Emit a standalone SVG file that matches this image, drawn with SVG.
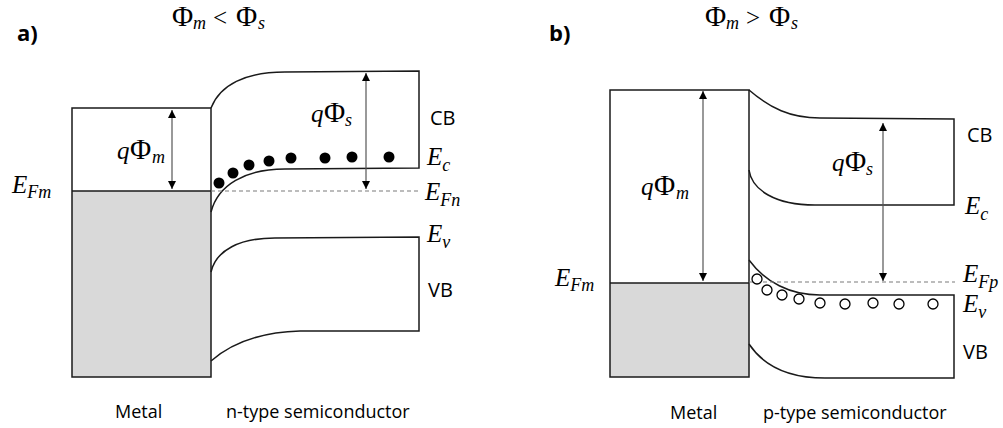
<svg xmlns="http://www.w3.org/2000/svg" width="1003" height="428" viewBox="0 0 1003 428">
<style>
.band{fill:none;stroke:#1a1a1a;stroke-width:1.5}
.box{fill:none;stroke:#1a1a1a;stroke-width:1.5}
.fill{fill:#d9d9d9;stroke:none}
.dash{stroke:#7a7a7a;stroke-width:1.2;stroke-dasharray:4 3;fill:none}
.arr{stroke:#555;stroke-width:1.2;fill:none;marker-start:url(#ah);marker-end:url(#ah)}
.sans{font-family:"Open Sans","Liberation Sans",sans-serif;fill:#000}
.math{font-family:"Liberation Serif","DejaVu Serif",serif;fill:#000;font-size:25px}
.it{font-style:italic}
.phi{font-size:29px}
.sub{font-style:italic;font-size:18px}
.e{fill:#000}
.h{fill:#fff;stroke:#000;stroke-width:1.3}
</style>
<defs>
<marker id="ah" viewBox="0 0 10 10" refX="10" refY="5" markerWidth="9" markerHeight="8" markerUnits="userSpaceOnUse" orient="auto-start-reverse">
<path d="M0,0 L10,5 L0,10 z" fill="#000"/>
</marker>
</defs>

<!-- Panel a -->
<text class="sans" x="17" y="41" font-size="22" font-weight="bold">a)</text>
<text class="math" y="26"><tspan class="phi" x="172">Φ</tspan><tspan class="sub" x="193" dy="3">m</tspan><tspan x="213" dy="-3">&lt;</tspan><tspan class="phi" x="236">Φ</tspan><tspan class="sub" x="258" dy="3">s</tspan></text>

<g id="a-metal">
<rect class="fill" x="72" y="191" width="139" height="186"/>
<rect class="box" x="72" y="108" width="139" height="269"/>
<line class="band" x1="72" y1="191" x2="211" y2="191"/>
<text class="math" y="193"><tspan class="it" x="12">E</tspan><tspan class="sub" dy="5">Fm</tspan></text>
<text class="sans" x="115" y="418" font-size="18">Metal</text>
</g>

<g id="a-cb">
<path class="band" d="M211,108 C220,85 245,72 285,72 L419,71 L419,168 L285,169 C245,169 218,185 211,212"/>
<text class="sans" x="430" y="125" font-size="20">CB</text>
<text class="math" y="165"><tspan class="it" x="427">E</tspan><tspan class="sub" dy="6">c</tspan></text>
</g>

<g id="a-vb">
<path class="band" d="M211,272 C216,250 240,238 275,238 L419,237 L419,331 L300,331 C265,332 235,340 211,361"/>
<text class="sans" x="428" y="297" font-size="20">VB</text>
<text class="math" y="242"><tspan class="it" x="427">E</tspan><tspan class="sub" dy="6">v</tspan></text>
</g>

<g id="a-efn">
<line class="dash" x1="211" y1="191" x2="419" y2="191"/>
<text class="math" y="200"><tspan class="it" x="425">E</tspan><tspan class="sub" dy="6">Fn</tspan></text>
</g>

<g id="a-electrons">
<circle class="e" cx="219" cy="183" r="5.5"/>
<circle class="e" cx="233" cy="173" r="5.5"/>
<circle class="e" cx="249" cy="165" r="5.5"/>
<circle class="e" cx="269" cy="161" r="5.5"/>
<circle class="e" cx="291" cy="158" r="5.5"/>
<circle class="e" cx="325" cy="158" r="5.5"/>
<circle class="e" cx="352" cy="157" r="5.5"/>
<circle class="e" cx="389" cy="157" r="5.5"/>
</g>

<g id="a-qphim">
<text class="math" y="159"><tspan class="it" x="117">q</tspan><tspan class="phi" x="130">Φ</tspan><tspan class="sub" x="152" dy="4">m</tspan></text>
</g>
<g id="a-qphis">
<text class="math" y="122"><tspan class="it" x="311">q</tspan><tspan class="phi" x="324">Φ</tspan><tspan class="sub" x="345" dy="4">s</tspan></text>
</g>
<text class="sans" x="226" y="418" font-size="18">n-type semiconductor</text>

<!-- Panel b -->
<text class="sans" x="549" y="41" font-size="22" font-weight="bold">b)</text>
<text class="math" y="26"><tspan class="phi" x="705">Φ</tspan><tspan class="sub" x="726" dy="3">m</tspan><tspan x="746" dy="-3">&gt;</tspan><tspan class="phi" x="769">Φ</tspan><tspan class="sub" x="791" dy="3">s</tspan></text>

<g id="b-metal">
<rect class="fill" x="610" y="283" width="139" height="94"/>
<rect class="box" x="610" y="90" width="139" height="287"/>
<line class="band" x1="610" y1="283" x2="749" y2="283"/>
<text class="math" y="286"><tspan class="it" x="555">E</tspan><tspan class="sub" dy="5">Fm</tspan></text>
<text class="sans" x="670" y="419" font-size="18">Metal</text>
</g>

<g id="b-cb">
<path class="band" d="M749,90 C770,108 790,118 820,118 L954,119 L954,205 L815,205 C775,205 752,190 749,170"/>
<text class="sans" x="967" y="142" font-size="20">CB</text>
<text class="math" y="214"><tspan class="it" x="965">E</tspan><tspan class="sub" dy="6">c</tspan></text>
</g>

<g id="b-vb">
<path class="band" d="M749,260 C765,282 790,295 820,295 L954,295 L954,378 L825,378 C790,378 765,368 749,344"/>
<text class="sans" x="963" y="359" font-size="20">VB</text>
<text class="math" y="312"><tspan class="it" x="963">E</tspan><tspan class="sub" dy="6">v</tspan></text>
</g>

<g id="b-efp">
<line class="dash" x1="749" y1="282" x2="955" y2="282"/>
<text class="math" y="282"><tspan class="it" x="963">E</tspan><tspan class="sub" dy="6">Fp</tspan></text>
</g>

<g id="b-holes">
<circle class="h" cx="757" cy="279" r="5"/>
<circle class="h" cx="767" cy="290" r="5"/>
<circle class="h" cx="782" cy="295" r="5"/>
<circle class="h" cx="799" cy="299" r="5"/>
<circle class="h" cx="820" cy="303" r="5"/>
<circle class="h" cx="845" cy="304" r="5"/>
<circle class="h" cx="873" cy="303" r="5"/>
<circle class="h" cx="899" cy="304" r="5"/>
<circle class="h" cx="933" cy="304" r="5"/>
</g>

<g id="b-qphim">
<text class="math" y="195"><tspan class="it" x="641">q</tspan><tspan class="phi" x="654">Φ</tspan><tspan class="sub" x="676" dy="4">m</tspan></text>
</g>
<g id="b-qphis">
<text class="math" y="171"><tspan class="it" x="832">q</tspan><tspan class="phi" x="845">Φ</tspan><tspan class="sub" x="866" dy="4">s</tspan></text>
</g>
<text class="sans" x="763" y="419" font-size="18">p-type semiconductor</text>

<g id="connectors">
<line class="arr" x1="172" y1="110" x2="172" y2="189"/>
<line class="arr" x1="366" y1="73" x2="366" y2="189"/>
<line class="arr" x1="703" y1="91" x2="703" y2="281"/>
<line class="arr" x1="883" y1="123" x2="883" y2="281"/>
</g>
</svg>
